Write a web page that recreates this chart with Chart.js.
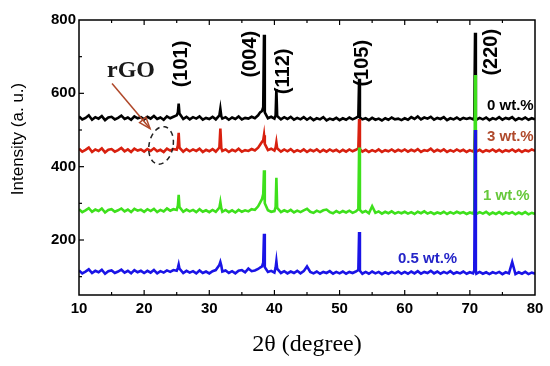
<!DOCTYPE html>
<html>
<head>
<meta charset="utf-8">
<script src="https://cdn.jsdelivr.net/npm/chart.js@4.4.1/dist/chart.umd.min.js"></script>
<style>
  html, body { margin: 0; padding: 0; background: #fff; }
  canvas { display: block; }
</style>
</head>
<body>
<canvas id="xrd" width="550" height="366"></canvas>
<script>
// 2theta positions (degree) shared by all patterns
const twoTheta = [
  10, 10.5, 11, 11.5, 12, 12.5, 13, 13.5, 14, 14.5, 15, 15.5, 16, 16.5, 17, 17.5, 18, 18.5, 19, 19.5,
  20, 20.5, 21, 21.5, 22, 22.5, 23, 23.5, 24, 24.5, 25, 25.18, 25.3, 25.42, 26, 26.5, 27, 27.5, 28, 28.5, 29, 29.5,
  30, 30.5, 31, 31.55, 31.7, 31.85, 32, 32.5, 33, 33.5, 34, 34.5, 35, 35.5, 36, 36.5, 37, 37.5, 37.8, 38.1, 38.28, 38.4, 38.52, 39, 39.5,
  40, 40.18, 40.3, 40.42, 41, 41.5, 42, 42.5, 43, 43.5, 44, 44.5, 45, 45.5, 46, 46.5, 47, 47.5, 48, 48.5, 49, 49.5,
  50, 50.5, 51, 51.5, 52, 52.5, 52.88, 53, 53.12, 53.5, 54, 54.5, 55, 55.5, 56, 56.5, 57, 57.5, 58, 58.5, 59, 59.5,
  60, 60.5, 61, 61.5, 62, 62.5, 63, 63.5, 64, 64.5, 65, 65.5, 66, 66.5, 67, 67.5, 68, 68.5, 69, 69.5,
  70, 70.5, 70.68, 70.8, 70.92, 71, 71.5, 72, 72.5, 73, 73.5, 74, 74.5, 75, 75.5, 76, 76.5, 77, 77.5, 78, 78.5, 79, 79.5, 80
];

// intensities (a. u.), offset patterns
const wt0 = [
  537, 529, 533, 540, 528, 535, 531, 538, 527, 534, 536, 529, 533, 539, 530, 534, 528, 537, 532, 535,
  529, 536, 531, 538, 530, 534, 528, 537, 532, 536, 540, 548, 572, 545, 530, 536, 529, 535, 531, 537, 528, 533,
  530, 536, 529, 540, 558, 537, 531, 535, 528, 534, 530, 537, 529, 533, 531, 536, 532, 540, 548, 552, 562, 760, 548, 532, 536,
  531, 540, 612, 538, 529, 535, 530, 536, 528, 533, 529, 535, 528, 534, 527, 532, 529, 535, 526, 531, 528, 533,
  527, 532, 528, 534, 529, 533, 537, 640, 534, 529, 532, 527, 533, 528, 531, 526, 532, 528, 534, 529, 531, 527,
  532, 528, 535, 530, 537, 529, 534, 531, 536, 528, 533, 530, 535, 527, 532, 529, 534, 528, 533, 530,
  533, 529, 535, 765, 534, 528, 533, 529, 534, 527, 532, 529, 535, 528, 533, 530, 535, 527, 532, 529, 534, 528, 532, 529
];
const wt3 = [
  449, 441, 446, 452, 440, 447, 443, 450, 439, 446, 448, 441, 445, 451, 442, 447, 440, 449, 444, 447,
  441, 448, 443, 450, 442, 446, 440, 449, 444, 448, 446, 458, 492, 452, 441, 448, 442, 447, 443, 449, 440, 446,
  442, 448, 441, 452, 504, 450, 443, 447, 440, 446, 442, 449, 441, 445, 443, 448, 444, 452, 460, 468, 472, 486, 462, 445, 449,
  444, 452, 466, 450, 441, 447, 442, 448, 440, 445, 441, 447, 440, 446, 442, 447, 440, 446, 441, 447, 442, 446,
  440, 446, 441, 447, 442, 446, 450, 530, 448, 441, 446, 440, 445, 441, 447, 440, 445, 442, 447, 441, 446, 442,
  447, 441, 446, 442, 448, 440, 445, 443, 449, 441, 446, 442, 447, 440, 445, 441, 447, 442, 446, 440,
  445, 441, 448, 500, 447, 441, 446, 440, 445, 442, 447, 441, 446, 440, 445, 442, 447, 441, 446, 440, 445, 442, 447, 443
];
const wt1 = [
  284, 276, 281, 287, 277, 283, 279, 286, 275, 282, 284, 277, 281, 286, 278, 283, 276, 285, 280, 283,
  277, 284, 279, 285, 276, 282, 278, 286, 280, 284, 282, 294, 323, 290, 277, 283, 278, 282, 276, 284, 277, 281,
  276, 282, 277, 288, 303, 286, 277, 282, 276, 281, 275, 282, 277, 281, 278, 284, 282, 292, 302, 312, 325, 390, 300, 281, 277,
  279, 290, 370, 288, 276, 281, 277, 282, 275, 280, 276, 281, 285, 277, 274, 280, 276, 281, 283, 276, 273, 279,
  274, 279, 275, 280, 274, 278, 284, 452, 282, 275, 279, 273, 292, 274, 278, 272, 277, 273, 278, 272, 276, 273,
  277, 272, 276, 271, 277, 273, 278, 272, 276, 271, 275, 272, 277, 271, 276, 272, 277, 273, 276, 271,
  275, 272, 280, 650, 277, 271, 276, 272, 277, 270, 275, 271, 276, 270, 275, 272, 276, 270, 275, 271, 276, 270, 274, 271
];
const wt05 = [
  117, 109, 114, 120, 110, 116, 112, 119, 108, 115, 117, 110, 114, 119, 111, 116, 109, 118, 112, 116,
  110, 116, 111, 118, 109, 115, 111, 117, 113, 118, 116, 124, 133, 122, 110, 116, 111, 115, 109, 117, 110, 114,
  109, 115, 118, 132, 140, 130, 114, 117, 110, 115, 109, 116, 118, 112, 122, 115, 117, 121, 125, 128, 138, 217, 126, 113, 116,
  111, 124, 142, 122, 110, 115, 109, 114, 110, 116, 109, 115, 128, 113, 109, 114, 108, 113, 110, 115, 108, 113,
  109, 114, 108, 113, 110, 114, 118, 222, 116, 108, 113, 108, 114, 109, 113, 107, 112, 108, 113, 109, 114, 108,
  113, 108, 114, 109, 115, 108, 113, 110, 116, 109, 114, 108, 113, 109, 115, 108, 112, 109, 114, 108,
  112, 109, 118, 500, 116, 108, 113, 108, 112, 107, 112, 109, 113, 107, 112, 109, 140, 107, 112, 108, 113, 107, 111, 108
];

const seriesLabels = ['0.5 wt.%', '1 wt.%', '3 wt.%', '0 wt.%'];
const peakLabels = ['(101)', '(004)', '(112)', '(105)', '(220)'];
const yTicks = [200, 400, 600, 800];

const toPoints = vals => vals.map((v, i) => ({ x: twoTheta[i], y: v }));

// frame, inward ticks and the text annotations
const decor = {
  id: 'decor',
  beforeDraw(chart) {
    const ctx = chart.ctx;
    ctx.save();
    ctx.fillStyle = '#fff';
    ctx.fillRect(0, 0, chart.width, chart.height);
    ctx.restore();
  },
  afterDraw(chart) {
    const { ctx, chartArea: a, scales: { x, y } } = chart;
    const line = (x1, y1, x2, y2) => {
      ctx.beginPath(); ctx.moveTo(x1, y1); ctx.lineTo(x2, y2); ctx.stroke();
    };
    ctx.save();
    ctx.strokeStyle = '#000';
    ctx.lineWidth = 1.5;
    ctx.strokeRect(a.left, a.top, a.right - a.left, a.bottom - a.top);
    ctx.lineWidth = 1.2;
    for (let v = 15; v < 80; v += 5) {
      const px = x.getPixelForValue(v);
      const len = v % 10 === 0 ? 5 : 3;
      line(px, a.bottom, px, a.bottom - len);
      line(px, a.top, px, a.top + len);
    }
    for (let v = 100; v < 800; v += 100) {
      const py = y.getPixelForValue(v);
      line(a.left, py, a.left + (v % 200 === 0 ? 5 : 3), py);
    }

    // peak indices, vertical
    const peakPos = [[25.66, 680], [36.25, 707], [41.32, 660], [53.45, 682], [73.25, 712]];
    ctx.fillStyle = '#000';
    ctx.font = 'bold 20px "Liberation Sans", Arial, sans-serif';
    ctx.textAlign = 'center';
    ctx.textBaseline = 'middle';
    peakLabels.forEach((t, i) => {
      ctx.save();
      ctx.translate(x.getPixelForValue(peakPos[i][0]), y.getPixelForValue(peakPos[i][1]));
      ctx.rotate(-Math.PI / 2);
      ctx.fillText(t, 0, 0);
      ctx.restore();
    });

    // sample labels
    const lab = [[58.97, 148, '#2424c8'], [72.02, 321, '#66c83a'], [72.63, 480, '#b04a2c'], [72.63, 567, '#000']];
    ctx.font = 'bold 15px "Liberation Sans", Arial, sans-serif';
    ctx.textAlign = 'left';
    seriesLabels.forEach((t, i) => {
      ctx.fillStyle = lab[i][2];
      ctx.fillText(t, x.getPixelForValue(lab[i][0]), y.getPixelForValue(lab[i][1]));
    });

    // rGO note with arrow and dashed ellipse
    ctx.fillStyle = '#1a1a1a';
    ctx.font = 'bold 24px "Liberation Serif", "Times New Roman", serif';
    ctx.textBaseline = 'alphabetic';
    ctx.fillText('rGO', x.getPixelForValue(14.3), y.getPixelForValue(644));
    const x1 = x.getPixelForValue(15.07), y1 = y.getPixelForValue(627);
    const x2 = x.getPixelForValue(20.9), y2 = y.getPixelForValue(504);
    ctx.strokeStyle = '#b0482a';
    ctx.lineWidth = 1.5;
    line(x1, y1, x2, y2);
    const ang = Math.atan2(y2 - y1, x2 - x1);
    ctx.beginPath();
    ctx.moveTo(x2, y2);
    ctx.lineTo(x2 - 12 * Math.cos(ang - 0.35), y2 - 12 * Math.sin(ang - 0.35));
    ctx.lineTo(x2 - 12 * Math.cos(ang + 0.35), y2 - 12 * Math.sin(ang + 0.35));
    ctx.closePath();
    ctx.stroke();
    ctx.strokeStyle = '#222';
    ctx.setLineDash([5, 4]);
    ctx.beginPath();
    ctx.ellipse(x.getPixelForValue(22.6), y.getPixelForValue(458), 12, 19, 0.2, 0, Math.PI * 2);
    ctx.stroke();
    ctx.setLineDash([]);

    // axis titles
    ctx.fillStyle = '#000';
    ctx.textAlign = 'center';
    ctx.textBaseline = 'middle';
    ctx.font = '24px "Liberation Serif", "Times New Roman", serif';
    ctx.fillText('2θ (degree)', (a.left + a.right) / 2, 345);
    ctx.save();
    ctx.translate(18, 139);
    ctx.rotate(-Math.PI / 2);
    ctx.font = '17px "Liberation Sans", Arial, sans-serif';
    ctx.fillText('Intensity (a. u.)', 0, 0);
    ctx.restore();
    ctx.restore();
  }
};

const mk = (label, vals, color) => ({
  label,
  data: toPoints(vals),
  borderColor: color,
  borderWidth: 2.6,
  pointRadius: 0,
  tension: 0,
  fill: false
});

new Chart(document.getElementById('xrd'), {
  type: 'line',
  data: {
    // first dataset is painted last, so blue sits on top
    datasets: [
      mk(seriesLabels[0], wt05, '#1a14e6'),
      mk(seriesLabels[1], wt1, '#3ee01c'),
      mk(seriesLabels[2], wt3, '#d8200f'),
      mk(seriesLabels[3], wt0, '#000000')
    ]
  },
  options: {
    responsive: false,
    animation: false,
    layout: { padding: { top: 20, right: 15, left: 0, bottom: 0 } },
    plugins: { legend: { display: false }, tooltip: { enabled: false } },
    scales: {
      x: {
        type: 'linear',
        min: 10,
        max: 80,
        border: { display: false },
        grid: { display: false, drawTicks: false },
        ticks: {
          stepSize: 10,
          padding: 5,
          color: '#000',
          maxRotation: 0,
          font: { family: '"Liberation Sans", Arial, sans-serif', size: 15, weight: 'bold' }
        },
        afterFit: s => { s.height = 71; }
      },
      y: {
        min: 50,
        max: 800,
        border: { display: false },
        grid: { display: false, drawTicks: false },
        afterBuildTicks: s => { s.ticks = yTicks.map(v => ({ value: v })); },
        ticks: {
          padding: 3,
          color: '#000',
          font: { family: '"Liberation Sans", Arial, sans-serif', size: 15, weight: 'bold' }
        },
        afterFit: s => { s.width = 79; }
      }
    }
  },
  plugins: [decor]
});
</script>
</body>
</html>
